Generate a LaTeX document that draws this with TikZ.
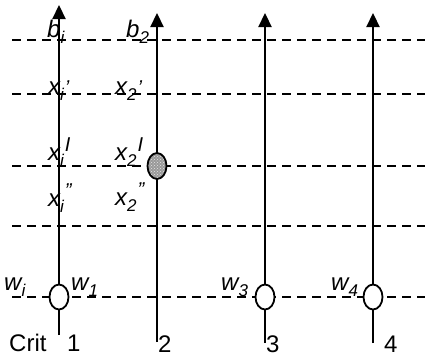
\documentclass[tikz,border=0pt]{standalone}
\usepackage{fontspec}
\setmainfont{Liberation Sans}
\usetikzlibrary{arrows.meta,shapes.geometric,patterns}
\newcommand\lbl[4]{\itshape #1\raisebox{-6pt}{\fontsize{17}{17}\selectfont #2}\kern1pt\raisebox{#4}{\fontsize{20}{20}\selectfont #3}}
\begin{document}
\begin{tikzpicture}[x=1pt,y=-1pt,
  grid/.style={line width=2.2pt,dash pattern=on 9pt off 6pt},
  axis/.style={line width=2.2pt},
  axarrow/.style={axis,-{Triangle[length=14pt,width=13pt]}},
  ell/.style={ellipse,draw,line width=1.8pt,fill=white,minimum width=19pt,minimum height=25pt,inner sep=0pt},
  txt/.style={anchor=base west,inner sep=0pt,font=\fontsize{24}{26}\selectfont},
  num/.style={anchor=base west,inner sep=0pt,font=\fontsize{24}{26}\selectfont}]
\useasboundingbox (0,0) rectangle (425,356);
% horizontal dashed lines
\foreach \y/\n in {40/1,94/2,166/3,226/4,297/5}{
  \coordinate (h\n l) at (12,\y);
  \coordinate (h\n r) at (425,\y);
  \draw[grid] (h\n l) -- (h\n r);
}
% axis coordinates
\coordinate (a1b) at (59,335); \coordinate (a1t) at (59,5);
\coordinate (a2b) at (157,342); \coordinate (a2t) at (157,13);
\coordinate (a3b) at (265,343); \coordinate (a3t) at (265,13);
\coordinate (a4b) at (373,343); \coordinate (a4t) at (373,13);
% ellipses
\node[ell] (e1) at (59,297) {};
\node[ell] (e3) at (265,297) {};
\node[ell] (e4) at (373,297) {};
\node[ellipse,minimum width=19pt,minimum height=26pt,inner sep=0pt] (e2) at (157,166) {};
% axes
\draw[axis] (a1b) -- (e1.south);
\draw[axarrow] (e1.north) -- (a1t);
\draw[axis] (a2b) -- (e2.south);
\draw[axarrow] (e2.north) -- (a2t);
\draw[axis] (a3b) -- (e3.south);
\draw[axarrow] (e3.north) -- (a3t);
\draw[axis] (a4b) -- (e4.south);
\draw[axarrow] (e4.north) -- (a4t);
% filled ellipse
\fill[gray!80] (e2.center) ellipse (9.5pt and 13pt);
\fill[pattern=crosshatch dots,pattern color=white!80!gray] (e2.center) ellipse (9.5pt and 13pt);
\draw[line width=1.8pt] (e2.center) ellipse (9.5pt and 13pt);
% labels
\node[txt] (bi) at (47,37) {\lbl{b}{i}{}{0pt}};
\node[txt] (b2) at (126,37) {\lbl{b}{2}{}{0pt}};
\node[txt] (xip) at (48,94) {\lbl{x}{i}{’}{0pt}};
\node[txt] (x2p) at (115,94) {\lbl{x}{2}{’}{0pt}};
\node[txt] (xiI) at (48,160) {\lbl{x}{i}{I}{9pt}};
\node[txt] (x2I) at (115,160) {\lbl{x}{2}{I}{9pt}};
\node[txt] (xipp) at (48,206) {\lbl{x}{i}{”}{9pt}};
\node[txt] (x2pp) at (115,205) {\lbl{x}{2}{”}{9pt}};
\node[txt] (wi) at (4,290) {\lbl{w}{i}{}{0pt}};
\node[txt] (w1) at (71,290) {\lbl{w}{1}{}{0pt}};
\node[txt] (w3) at (221,290) {\lbl{w}{3}{}{0pt}};
\node[txt] (w4) at (331,290) {\lbl{w}{4}{}{0pt}};
\node[num] (crit) at (9,351) {Crit};
\node[num] (n1) at (67,351) {1};
\node[num] (n2) at (158,352) {2};
\node[num] (n3) at (266,352) {3};
\node[num] (n4) at (384,352) {4};
\end{tikzpicture}
\end{document}
